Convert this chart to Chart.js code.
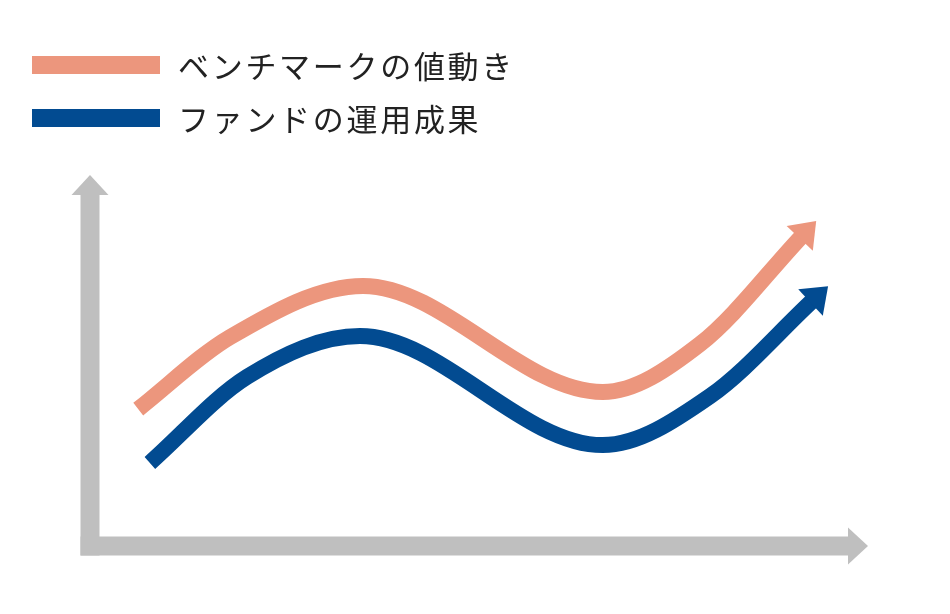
<!DOCTYPE html>
<html lang="ja">
<head>
<meta charset="utf-8">
<script src="https://cdn.jsdelivr.net/npm/chart.js@4/dist/chart.umd.min.js"></script>
<style>
    html, body { margin: 0; padding: 0; background: #fff; }
    #wrap { position: relative; width: 950px; height: 614px; }
    #legend { position: absolute; left: 32px; top: 46px; font-family: "Noto Sans CJK JP", sans-serif; }
    .item { display: flex; align-items: center; height: 38px; margin-bottom: 15px; }
    .swatch { width: 128px; height: 18px; margin-right: 18px; }
    .label { font-size: 31px; letter-spacing: 2.7px; color: #222; line-height: 38px; }
</style>
</head>
<body>
<div id="wrap">
    <canvas id="trendChart" width="950" height="614"></canvas>
    <div id="legend"></div>
</div>
<script>
// series labels
const seriesNames = ['ベンチマークの値動き', 'ファンドの運用成果'];
const seriesColors = ['#ec967d', '#024b91'];

// benchmark curve (time, value)
const benchmarkX = [6.2, 18.0, 35.1, 65.9, 78.4, 91.4];
const benchmarkY = [36.9, 56.3, 70.1, 41.5, 54.4, 83.3];

// fund curve (time, value)
const fundX = [7.7, 20.2, 34.7, 65.9, 79.7, 92.8];
const fundY = [22.4, 45.6, 56.6, 27.2, 40.4, 66.0];

const axisColor = '#bfbfbf';

function toPoints(xs, ys) {
    return xs.map((x, i) => ({ x: x, y: ys[i] }));
}

// grey axes with arrow heads, drawn along the hidden scales
const axisArrows = {
    id: 'axisArrows',
    beforeDatasetsDraw(chart) {
        const ctx = chart.ctx;
        const xs = chart.scales.x, ys = chart.scales.y;
        const left = xs.getPixelForValue(xs.min);
        const right = xs.getPixelForValue(xs.max);
        const bottom = ys.getPixelForValue(ys.min);
        const top = ys.getPixelForValue(ys.max);
        const half = 9.5, head = 20, headHalf = 18.5;
        ctx.save();
        ctx.fillStyle = axisColor;
        // vertical
        ctx.fillRect(left - half, top + head, half * 2, bottom + half - top - head);
        ctx.beginPath();
        ctx.moveTo(left, top);
        ctx.lineTo(left + headHalf, top + head);
        ctx.lineTo(left - headHalf, top + head);
        ctx.closePath();
        ctx.fill();
        // horizontal
        ctx.fillRect(left - half, bottom - half, right - head - left + half, half * 2);
        ctx.beginPath();
        ctx.moveTo(right, bottom);
        ctx.lineTo(right - head, bottom - headHalf);
        ctx.lineTo(right - head, bottom + headHalf);
        ctx.closePath();
        ctx.fill();
        ctx.restore();
    }
};

// arrow head at the end of each line, following the curve's last tangent
const lineArrows = {
    id: 'lineArrows',
    afterDatasetsDraw(chart) {
        const ctx = chart.ctx;
        chart.data.datasets.forEach((ds, i) => {
            const meta = chart.getDatasetMeta(i);
            const pts = meta.data;
            const last = pts[pts.length - 1];
            let dx = last.x - last.cp1x, dy = last.y - last.cp1y;
            if (!isFinite(dx) || Math.hypot(dx, dy) < 0.5) {
                const prev = pts[pts.length - 2];
                dx = last.x - prev.x; dy = last.y - prev.y;
            }
            const len = Math.hypot(dx, dy);
            dx /= len; dy /= len;
            const px = -dy, py = dx;
            const bx = last.x - dx * 2, by = last.y - dy * 2;
            ctx.save();
            ctx.fillStyle = ds.borderColor;
            ctx.beginPath();
            ctx.moveTo(bx + dx * 24, by + dy * 24);
            ctx.lineTo(bx + px * 18, by + py * 18);
            ctx.lineTo(bx - px * 18, by - py * 18);
            ctx.closePath();
            ctx.fill();
            ctx.restore();
        });
    }
};

const ctx = document.getElementById('trendChart').getContext('2d');
const trendChart = new Chart(ctx, {
    type: 'line',
    data: {
        datasets: [
            {
                label: seriesNames[0],
                data: toPoints(benchmarkX, benchmarkY),
                borderColor: seriesColors[0],
                borderWidth: 16,
                cubicInterpolationMode: 'monotone',
                pointRadius: 0,
                clip: false
            },
            {
                label: seriesNames[1],
                data: toPoints(fundX, fundY),
                borderColor: seriesColors[1],
                borderWidth: 16,
                cubicInterpolationMode: 'monotone',
                pointRadius: 0,
                clip: false
            }
        ]
    },
    options: {
        responsive: false,
        animation: false,
        devicePixelRatio: 1,
        layout: { padding: { left: 90, right: 82, top: 175, bottom: 68 } },
        scales: {
            x: { type: 'linear', min: 0, max: 100, display: false },
            y: { type: 'linear', min: 0, max: 100, display: false }
        },
        plugins: {
            legend: { display: false },
            tooltip: { enabled: false }
        }
    },
    plugins: [axisArrows, lineArrows]
});

// legend built from the same names and colours
document.getElementById('legend').innerHTML = seriesNames.map((name, i) => `
    <div class="item">
        <div class="swatch" style="background:${seriesColors[i]}"></div>
        <div class="label">${name}</div>
    </div>`).join('');
</script>
</body>
</html>
